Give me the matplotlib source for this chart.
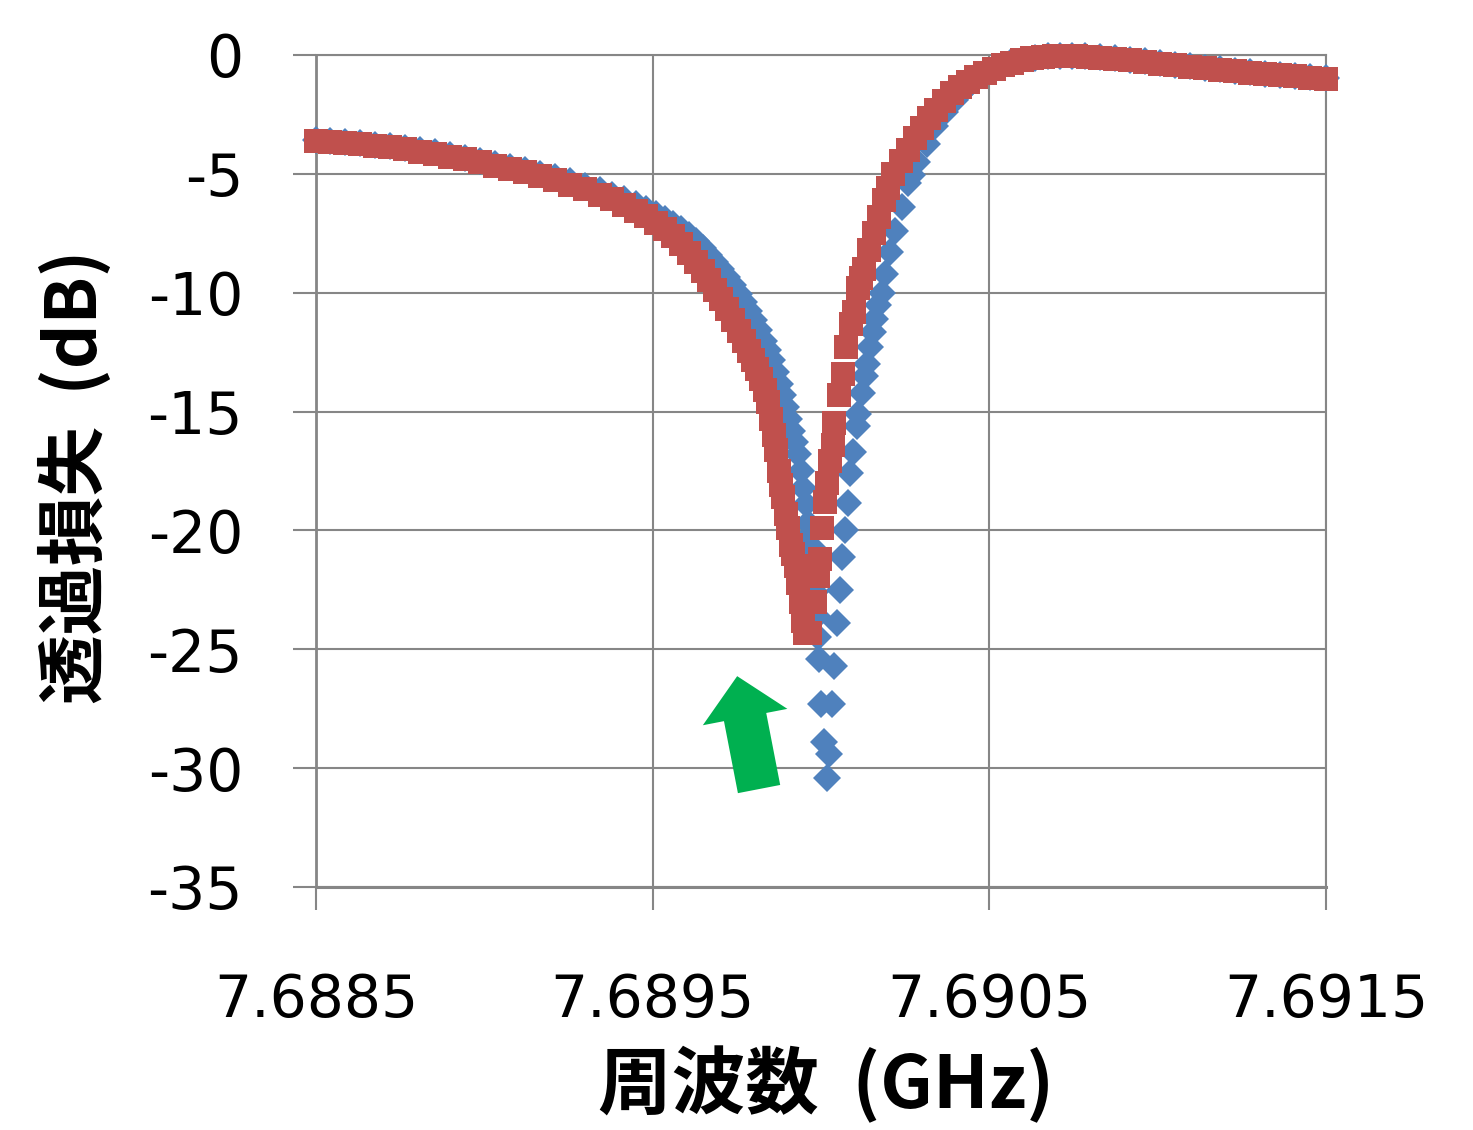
import matplotlib
matplotlib.use('Agg')
import matplotlib.pyplot as plt
from matplotlib.patches import FancyArrowPatch

# Measured transmission, series 1 (blue diamonds): frequency (GHz), loss (dB)
freq_blue = [7.688500, 7.688542, 7.688586, 7.688631, 7.688675, 7.688720, 7.688764, 7.688809,
             7.688853, 7.688898, 7.688943, 7.688987, 7.689032, 7.689076, 7.689121, 7.689165,
             7.689210, 7.689254, 7.689299, 7.689344, 7.689379, 7.689415, 7.689451, 7.689480,
             7.689510, 7.689537, 7.689560, 7.689584, 7.689608, 7.689629, 7.689650, 7.689667,
             7.689685, 7.689703, 7.689721, 7.689739, 7.689756, 7.689771, 7.689786, 7.689801,
             7.689816, 7.689831, 7.689843, 7.689854, 7.689866, 7.689878, 7.689887, 7.689896,
             7.689905, 7.689914, 7.689923, 7.689932, 7.689941, 7.689947, 7.689955, 7.689961,
             7.689967, 7.689973, 7.689979, 7.689982, 7.689988, 7.689991, 7.689994, 7.690000,
             7.690009, 7.690018, 7.690024, 7.690033, 7.690039, 7.690048, 7.690056, 7.690062,
             7.690071, 7.690080, 7.690086, 7.690095, 7.690107, 7.690110, 7.690122, 7.690131,
             7.690137, 7.690146, 7.690154, 7.690160, 7.690169, 7.690181, 7.690190, 7.690205,
             7.690220, 7.690241, 7.690258, 7.690270, 7.690285, 7.690315, 7.690339, 7.690368,
             7.690398, 7.690419, 7.690449, 7.690487, 7.690523, 7.690561, 7.690597, 7.690636,
             7.690674, 7.690710, 7.690746, 7.690784, 7.690829, 7.690873, 7.690918, 7.690962,
             7.691007, 7.691052, 7.691096, 7.691141, 7.691185, 7.691230, 7.691274, 7.691319,
             7.691363, 7.691408, 7.691453, 7.691500]
loss_blue = [-3.58, -3.62, -3.67, -3.72, -3.77, -3.83, -3.91, -4.00,
             -4.10, -4.21, -4.32, -4.44, -4.57, -4.70, -4.84, -4.99,
             -5.15, -5.32, -5.50, -5.70, -5.87, -6.06, -6.27, -6.46,
             -6.67, -6.89, -7.10, -7.33, -7.58, -7.84, -8.13, -8.40,
             -8.69, -9.00, -9.33, -9.68, -10.05, -10.40, -10.77, -11.16,
             -11.58, -12.03, -12.42, -12.85, -13.33, -13.85, -14.30, -14.80,
             -15.30, -15.80, -16.30, -16.80, -17.50, -18.20, -18.90, -19.70,
             -20.20, -20.70, -21.80, -22.60, -23.60, -24.50, -25.40, -27.30,
             -28.90, -30.40, -29.40, -27.30, -25.70, -23.90, -22.50, -21.10,
             -20.00, -18.85, -17.60, -16.70, -15.60, -15.10, -14.20, -13.50,
             -13.00, -12.30, -11.65, -11.10, -10.50, -10.00, -9.20, -8.30,
             -7.40, -6.40, -5.40, -5.05, -4.50, -3.75, -3.00, -2.40,
             -1.90, -1.55, -1.15, -0.78, -0.50, -0.33, -0.20, -0.11,
             -0.06, -0.03, -0.03, -0.05, -0.09, -0.14, -0.20, -0.27,
             -0.34, -0.41, -0.48, -0.54, -0.60, -0.66, -0.72, -0.78,
             -0.83, -0.88, -0.93, -0.97]

# Series 2 (red squares)
freq_red = [7.688500, 7.688542, 7.688586, 7.688631, 7.688675, 7.688720, 7.688764, 7.688809,
            7.688853, 7.688898, 7.688943, 7.688987, 7.689032, 7.689076, 7.689121, 7.689165,
            7.689210, 7.689254, 7.689299, 7.689344, 7.689379, 7.689415, 7.689451, 7.689480,
            7.689510, 7.689537, 7.689560, 7.689584, 7.689608, 7.689629, 7.689650, 7.689667,
            7.689685, 7.689703, 7.689721, 7.689739, 7.689756, 7.689771, 7.689786, 7.689798,
            7.689810, 7.689822, 7.689834, 7.689843, 7.689851, 7.689860, 7.689866, 7.689875,
            7.689881, 7.689887, 7.689896, 7.689902, 7.689911, 7.689917, 7.689926, 7.689932,
            7.689941, 7.689947, 7.689952, 7.689967, 7.689982, 7.689991, 7.689997, 7.690003,
            7.690012, 7.690018, 7.690027, 7.690036, 7.690039, 7.690053, 7.690065, 7.690074,
            7.690089, 7.690098, 7.690110, 7.690119, 7.690128, 7.690143, 7.690157, 7.690172,
            7.690187, 7.690199, 7.690214, 7.690238, 7.690258, 7.690279, 7.690300, 7.690321,
            7.690342, 7.690365, 7.690389, 7.690413, 7.690437, 7.690460, 7.690487, 7.690514,
            7.690541, 7.690567, 7.690597, 7.690627, 7.690659, 7.690692, 7.690725, 7.690757,
            7.690793, 7.690829, 7.690873, 7.690918, 7.690962, 7.691007, 7.691052, 7.691096,
            7.691141, 7.691185, 7.691230, 7.691274, 7.691319, 7.691363, 7.691408, 7.691453,
            7.691500]
loss_red = [-3.62, -3.66, -3.71, -3.76, -3.82, -3.87, -3.96, -4.06,
            -4.16, -4.28, -4.39, -4.52, -4.66, -4.80, -4.94, -5.10,
            -5.27, -5.45, -5.65, -5.87, -6.07, -6.29, -6.55, -6.78,
            -7.05, -7.33, -7.62, -7.95, -8.32, -8.70, -9.10, -9.48,
            -9.88, -10.28, -10.70, -11.14, -11.60, -12.02, -12.45, -12.82,
            -13.22, -13.62, -14.10, -14.60, -15.30, -16.00, -16.60, -17.50,
            -18.10, -18.60, -19.30, -19.90, -20.60, -21.00, -21.50, -22.20,
            -23.00, -23.80, -24.30, -24.30, -23.00, -21.90, -21.20, -19.90,
            -18.80, -18.00, -17.10, -16.40, -15.50, -14.30, -13.40, -12.30,
            -11.30, -10.80, -9.80, -9.40, -9.00, -8.20, -7.50, -6.80,
            -6.10, -5.60, -5.00, -4.46, -4.00, -3.50, -3.05, -2.65,
            -2.30, -1.95, -1.60, -1.35, -1.12, -0.92, -0.74, -0.58,
            -0.44, -0.32, -0.22, -0.14, -0.09, -0.06, -0.05, -0.06,
            -0.08, -0.11, -0.16, -0.22, -0.29, -0.36, -0.43, -0.50,
            -0.56, -0.62, -0.68, -0.74, -0.80, -0.85, -0.90, -0.95,
            -0.99]

x_ticks = [7.6885, 7.6895, 7.6905, 7.6915]
x_tick_labels = ['7.6885', '7.6895', '7.6905', '7.6915']
y_ticks = [0, -5, -10, -15, -20, -25, -30, -35]
y_tick_labels = ['0', '-5', '-10', '-15', '-20', '-25', '-30', '-35']

# green arrow pointing at the shifted dip (tail -> tip, data coords)
arrow_tail = (7.689816, -30.88)
arrow_tip = (7.689751, -26.13)

grid_col = '#868686'
label_font = ['Noto Sans CJK JP', 'DejaVu Sans']

fig = plt.figure(figsize=(14.73, 11.30), dpi=100, facecolor='white')
ax = fig.add_axes([316 / 1473, 1 - 887 / 1130, 1010 / 1473, 832 / 1130])

ax.plot(freq_blue, loss_blue, 'D', color='#4F81BD', ms=14, mew=0, clip_on=False, zorder=3)
ax.plot(freq_red, loss_red, 's', color='#C0504D', ms=17, mew=0, clip_on=False, zorder=4)

ax.set_xlim(7.6885, 7.6915)
ax.set_ylim(-35, 0)
ax.set_xticks(x_ticks, x_tick_labels)
ax.set_yticks(y_ticks, y_tick_labels)
ax.grid(True, color=grid_col, lw=1.5)
ax.set_axisbelow(True)
for spine in ('top', 'right', 'bottom', 'left'):
    ax.spines[spine].set_color(grid_col)
    ax.spines[spine].set_linewidth(1.5)
ax.spines['left'].set_linewidth(2)
ax.spines['bottom'].set_linewidth(2.2)
ax.tick_params(axis='both', direction='out', length=16.5, width=1.5, color=grid_col,
               labelsize=42, labelcolor='black')
ax.tick_params(axis='y', pad=36)
ax.tick_params(axis='x', pad=45)

arrow = FancyArrowPatch(arrow_tail, arrow_tip,
                        arrowstyle='simple,head_length=30,head_width=62,tail_width=31',
                        mutation_scale=1, color='#00B050', lw=0,
                        shrinkA=0, shrinkB=0, zorder=5)
ax.add_patch(arrow)

ax.set_xlabel('周波数  (GHz)', fontsize=53, fontweight='bold', family=label_font, va='center')
ax.xaxis.set_label_coords(0.505, -0.238)
ax.set_ylabel('透過損失  (dB)', fontsize=50, fontweight='bold', family=label_font, va='center')
ax.yaxis.set_label_coords(-0.2386, 0.4928)

fig.savefig('out.png', dpi=100)
